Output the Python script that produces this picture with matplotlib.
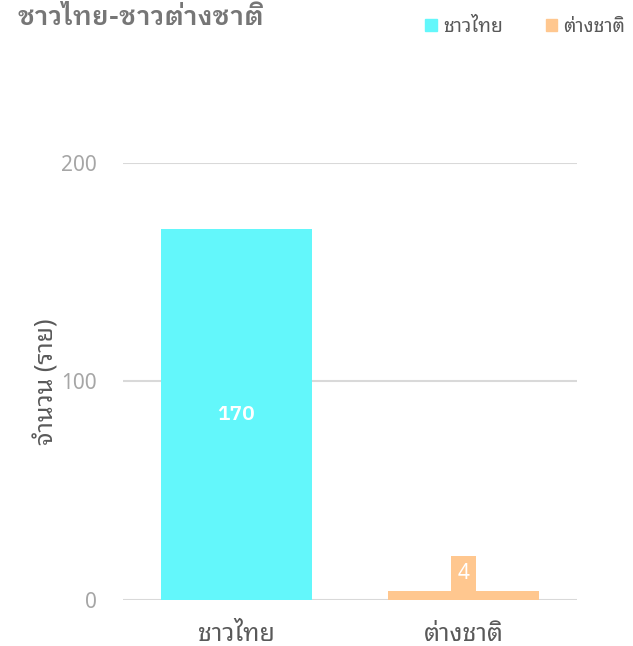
import matplotlib
matplotlib.use("Agg")
import matplotlib.pyplot as plt
from matplotlib.patches import Patch

plt.rcParams['font.family'] = ['Noto Sans Thai Looped', 'DejaVu Sans']
bold_font = ['IBM Plex Sans Thai Looped', 'Noto Sans Thai Looped', 'DejaVu Sans']

# ข้อมูล
categories = ['ชาวไทย', 'ต่างชาติ']
values = [170, 4]
colors = ['#63F7FB', '#FFC78F']
y_ticks = [0, 100, 200]

fig = plt.figure(figsize=(6.33, 6.46), dpi=100)
ax = fig.add_axes([0.1943, 0.0712, 0.7172, 0.6765])

x = range(len(categories))
bars = ax.bar(x, values, width=0.665, color=colors, zorder=2)

ax.set_xlim(-0.5, 1.5)
ax.set_ylim(0, 200)
ax.set_yticks(y_ticks)
ax.set_xticks(list(x))
ax.set_xticklabels(categories, fontsize=18, color='#595959')
ax.tick_params(axis='y', length=0, pad=19, labelsize=15, labelcolor='#a6a6a6')
ax.tick_params(axis='x', length=0, pad=16)
ax.grid(axis='y', color='#d9d9d9', linewidth=1.5, zorder=0)
for s in ax.spines.values():
    s.set_visible(False)

ax.set_ylabel('จำนวน (ราย)', fontsize=18, color='#595959', labelpad=1)

# ป้ายค่าบนแท่ง
ax.text(0, values[0] / 2, str(values[0]), ha='center', va='center',
        color='white', fontsize=15, fontweight='semibold', family=bold_font, zorder=3)
ax.annotate(str(values[1]), xy=(1, values[1]), xytext=(0, 5),
            textcoords='offset points', ha='center', va='bottom',
            color='white', fontsize=15, zorder=3,
            bbox=dict(boxstyle='square,pad=0.33', fc=colors[1], ec='none'))

fig.text(0.028, 0.972, 'ชาวไทย-ชาวต่างชาติ', fontsize=19, fontweight='semibold',
         family=bold_font, color='#767676', va='center', ha='left')

handles = [Patch(color=c) for c in colors]
fig.legend(handles, categories, loc='center right', bbox_to_anchor=(1.015, 0.958),
           ncol=2, frameon=False, fontsize=14, labelcolor='#595959',
           handlelength=0.6, handleheight=0.6, handletextpad=0.3, columnspacing=2.2)

fig.savefig('out.png')
